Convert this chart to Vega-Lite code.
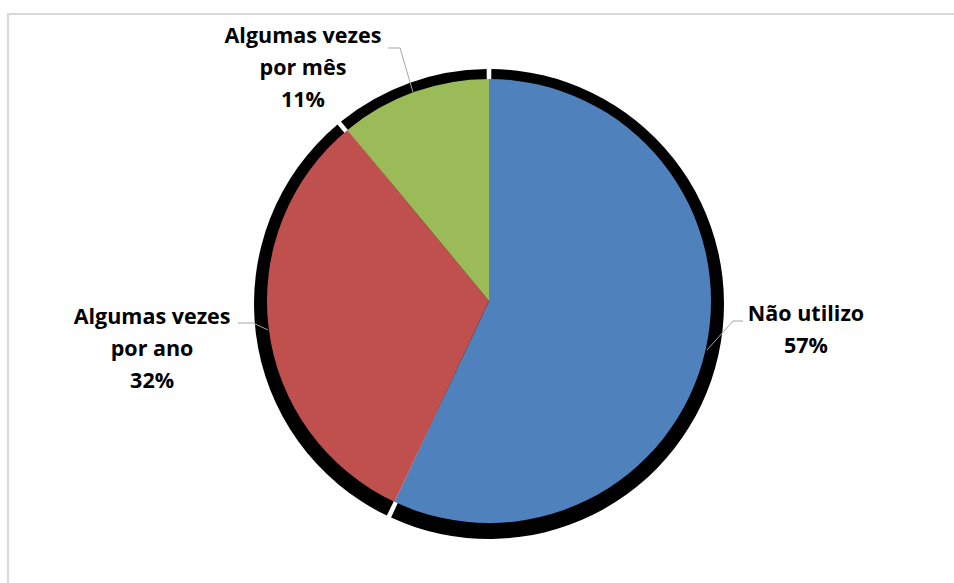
{
  "$schema": "https://vega.github.io/schema/vega-lite/v6.json",
  "autosize": "none",
  "padding": {"left": 8, "top": 14, "right": 0, "bottom": 0},
  "width": 962,
  "height": 574,
  "background": "white",
  "config": {
    "view": {"stroke": "#d9d9d9", "strokeWidth": 2},
    "font": "Open Sans"
  },
  "datasets": {
    "usage": [
      {"categoria": "Não utilizo", "pct": 57, "ordem": 1},
      {"categoria": "Algumas vezes por ano", "pct": 32, "ordem": 2},
      {"categoria": "Algumas vezes por mês", "pct": 11, "ordem": 3}
    ],
    "labels": [
      {"texto": "Não utilizo\n57%", "x": 1.45, "y": -0.063},
      {"texto": "Algumas vezes\npor ano\n32%", "x": -1.541, "y": -0.077},
      {"texto": "Algumas vezes\npor mês\n11%", "x": -0.851, "y": 1.196}
    ],
    "leaders": [
      {"id": "a", "seq": 1, "x": 1.162, "y": -0.0906},
      {"id": "a", "seq": 2, "x": 1.116, "y": -0.0906},
      {"id": "a", "seq": 3, "x": 0.997, "y": -0.222},
      {"id": "b", "seq": 1, "x": -1.148, "y": -0.0997},
      {"id": "b", "seq": 2, "x": -1.079, "y": -0.0997},
      {"id": "b", "seq": 3, "x": -1.011, "y": -0.131},
      {"id": "c", "seq": 1, "x": -0.462, "y": 1.146},
      {"id": "c", "seq": 2, "x": -0.407, "y": 1.146},
      {"id": "c", "seq": 3, "x": -0.348, "y": 0.947}
    ]
  },
  "layer": [
    {
      "data": {"name": "usage"},
      "mark": {"type": "arc", "outerRadius": 235, "padAngle": 0.02, "color": "black", "yOffset": 3},
      "encoding": {
        "theta": {"field": "pct", "type": "quantitative", "stack": true},
        "order": {"field": "ordem", "type": "quantitative"}
      }
    },
    {
      "data": {"name": "usage"},
      "mark": {"type": "arc", "outerRadius": 222},
      "encoding": {
        "theta": {"field": "pct", "type": "quantitative", "stack": true},
        "order": {"field": "ordem", "type": "quantitative"},
        "color": {
          "field": "categoria",
          "type": "nominal",
          "scale": {
            "domain": ["Não utilizo", "Algumas vezes por ano", "Algumas vezes por mês"],
            "range": ["#4f81bd", "#c0504d", "#9bbb59"]
          },
          "legend": null
        }
      }
    },
    {
      "data": {"name": "leaders"},
      "mark": {"type": "line", "color": "#a6a6a6", "strokeWidth": 1},
      "encoding": {
        "x": {"field": "x", "type": "quantitative", "scale": {"domain": [-2.2, 2.2], "nice": false, "zero": false}, "axis": null},
        "y": {"field": "y", "type": "quantitative", "scale": {"domain": [-1.3, 1.3], "nice": false, "zero": false}, "axis": null},
        "detail": {"field": "id"},
        "order": {"field": "seq", "type": "quantitative"}
      }
    },
    {
      "data": {"name": "labels"},
      "mark": {"type": "text", "fontWeight": "bold", "fontSize": 21.5, "lineBreak": "\n", "lineHeight": 32, "align": "center", "baseline": "middle", "color": "black"},
      "encoding": {
        "x": {"field": "x", "type": "quantitative"},
        "y": {"field": "y", "type": "quantitative"},
        "text": {"field": "texto"}
      }
    }
  ]
}
